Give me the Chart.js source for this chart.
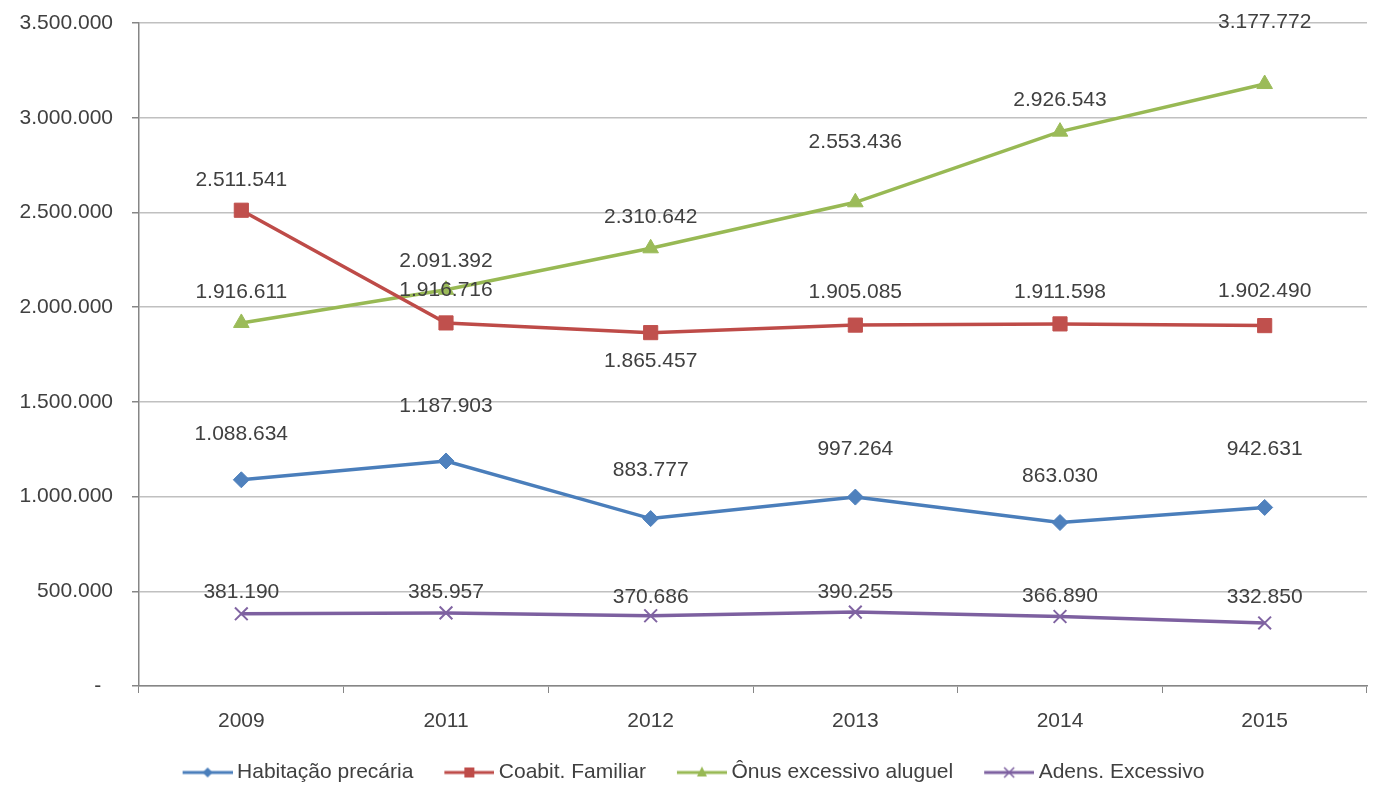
<!DOCTYPE html>
<html>
<head>
<meta charset="utf-8">
<script src="https://cdn.jsdelivr.net/npm/chart.js@4"></script>
<style>
  html, body { margin: 0; padding: 0; background: #fff; overflow: hidden; }
  #wrap { width: 1378px; height: 785px; }
</style>
</head>
<body>
<div id="wrap"><canvas id="housingChart"></canvas></div>
<script>
// data
const years = ["2009", "2011", "2012", "2013", "2014", "2015"];
const habitacao = [1088634, 1187903, 883777, 997264, 863030, 942631];
const coabitacao = [2511541, 1916716, 1865457, 1905085, 1911598, 1902490];
const onus = [1916611, 2091392, 2310642, 2553436, 2926543, 3177772];
const adensamento = [381190, 385957, 370686, 390255, 366890, 332850];
const yTicks = [0, 500000, 1000000, 1500000, 2000000, 2500000, 3000000, 3500000];

const fontFamily = "'Liberation Sans', Arial, sans-serif";
const textColor = '#404040';

function fmt(v) {
    return String(v).replace(/\B(?=(\d{3})+(?!\d))/g, '.');
}

// small canvas with line + marker, used as legend symbol
function legendSymbol(color, style) {
    const c = document.createElement('canvas');
    c.width = 85; c.height = 20;
    const g = c.getContext('2d');
    g.strokeStyle = color;
    g.lineWidth = 3;
    g.beginPath(); g.moveTo(35, 10); g.lineTo(85, 10); g.stroke();
    g.fillStyle = color;
    g.beginPath();
    if (style === 'rectRot') {
        g.moveTo(60, 5); g.lineTo(65, 10); g.lineTo(60, 15); g.lineTo(55, 10); g.closePath(); g.fill();
    } else if (style === 'rect') {
        g.fillRect(55, 5, 10, 10);
    } else if (style === 'triangle') {
        g.moveTo(60, 4); g.lineTo(65, 14); g.lineTo(55, 14); g.closePath(); g.fill();
    } else {
        g.lineWidth = 1.5;
        g.moveTo(55, 5); g.lineTo(65, 15); g.moveTo(65, 5); g.lineTo(55, 15); g.stroke();
    }
    return c;
}

function series(label, data, line, marker, style, radius, labelOffset, below) {
    return {
        label: label,
        data: data,
        borderColor: line,
        backgroundColor: marker,
        pointBackgroundColor: marker,
        pointBorderColor: marker,
        pointStyle: style,
        pointRadius: radius,
        pointHoverRadius: radius,
        pointBorderWidth: style === 'crossRot' ? 2 : 1,
        borderWidth: 3.5,
        tension: 0,
        labelOffset: labelOffset,
        labelBelow: below || [],
        legendSymbol: legendSymbol(line, style)
    };
}

// value labels over each point, like the Excel data labels
const valueLabels = {
    id: 'valueLabels',
    afterDatasetsDraw(chart) {
        const ctx = chart.ctx;
        ctx.save();
        ctx.font = '21px ' + fontFamily;
        ctx.fillStyle = textColor;
        ctx.textAlign = 'center';
        ctx.textBaseline = 'middle';
        chart.data.datasets.forEach((ds, i) => {
            const meta = chart.getDatasetMeta(i);
            meta.data.forEach((pt, j) => {
                const off = ds.labelOffset[j];
                const below = ds.labelBelow.indexOf(j) >= 0;
                ctx.fillText(fmt(ds.data[j]), pt.x, below ? pt.y + off : pt.y - off);
            });
        });
        ctx.restore();
    }
};

// nudge the legend a bit lower and left, where Excel put it
const legendShift = {
    id: 'legendShift',
    afterLayout(chart) {
        const lg = chart.legend;
        lg.top += 8; lg.bottom += 8;
        lg.left -= 10; lg.right -= 10;
    }
};

const ctxHousing = document.getElementById('housingChart').getContext('2d');
const housingChart = new Chart(ctxHousing, {
    type: 'line',
    data: {
        labels: years,
        datasets: [
            series('Habitação precária', habitacao, '#4A7EBB', '#4F81BD', 'rectRot', 8, [46, 55, 48, 48, 46, 58]),
            series('Coabit. Familiar', coabitacao, '#BE4B48', '#C0504D', 'rect', 10, [30, 33, 29, 33, 32, 34], [2]),
            series('Ônus excessivo aluguel', onus, '#98B954', '#9BBB59', 'triangle', 9, [31, 29, 31, 60, 31, 62]),
            series('Adens. Excessivo', adensamento, '#7D60A0', '#8064A2', 'crossRot', 9, [22, 21, 19, 20, 20, 26])
        ]
    },
    plugins: [valueLabels, legendShift],
    options: {
        responsive: true,
        maintainAspectRatio: false,
        animation: false,
        layout: {
            padding: { top: 23, right: 0, left: 0, bottom: 0 }
        },
        scales: {
            x: {
                offset: true,
                grid: {
                    offset: true,
                    drawOnChartArea: false,
                    drawTicks: true,
                    tickLength: 7,
                    color: '#868686'
                },
                border: { color: '#868686', width: 1.5 },
                ticks: {
                    color: textColor,
                    font: { family: fontFamily, size: 21 },
                    padding: 16,
                    maxRotation: 0
                },
                afterFit(scale) {
                    scale.height = 66;
                    scale.paddingLeft = 0;
                    scale.paddingRight = 0;
                    scale.paddingTop = 0;
                    scale.paddingBottom = 0;
                }
            },
            y: {
                min: 0,
                max: 3500000,
                afterBuildTicks(scale) {
                    scale.ticks = yTicks.map(v => ({ value: v }));
                },
                grid: {
                    color: '#C0C0C0',
                    lineWidth: 1.5,
                    tickLength: 7,
                    tickColor: '#868686'
                },
                border: { color: '#868686', width: 1.5 },
                ticks: {
                    color: textColor,
                    font: { family: fontFamily, size: 21 },
                    padding: 19,
                    callback: v => v === 0 ? '-  ' : fmt(v)
                },
                afterFit(scale) {
                    scale.width = 139;
                    scale.paddingLeft = 0;
                    scale.paddingRight = 0;
                    scale.paddingTop = 0;
                    scale.paddingBottom = 0;
                }
            }
        },
        plugins: {
            legend: {
                position: 'bottom',
                labels: {
                    usePointStyle: true,
                    pointStyleWidth: 73,
                    padding: 2,
                    color: textColor,
                    font: { family: fontFamily, size: 21 },
                    generateLabels(chart) {
                        return chart.data.datasets.map((ds, i) => ({
                            text: ds.label,
                            pointStyle: ds.legendSymbol,
                            fillStyle: ds.borderColor,
                            strokeStyle: ds.borderColor,
                            lineWidth: 0,
                            hidden: false,
                            datasetIndex: i,
                            fontColor: textColor
                        }));
                    }
                }
            },
            tooltip: { enabled: false }
        }
    }
});
</script>
</body>
</html>
